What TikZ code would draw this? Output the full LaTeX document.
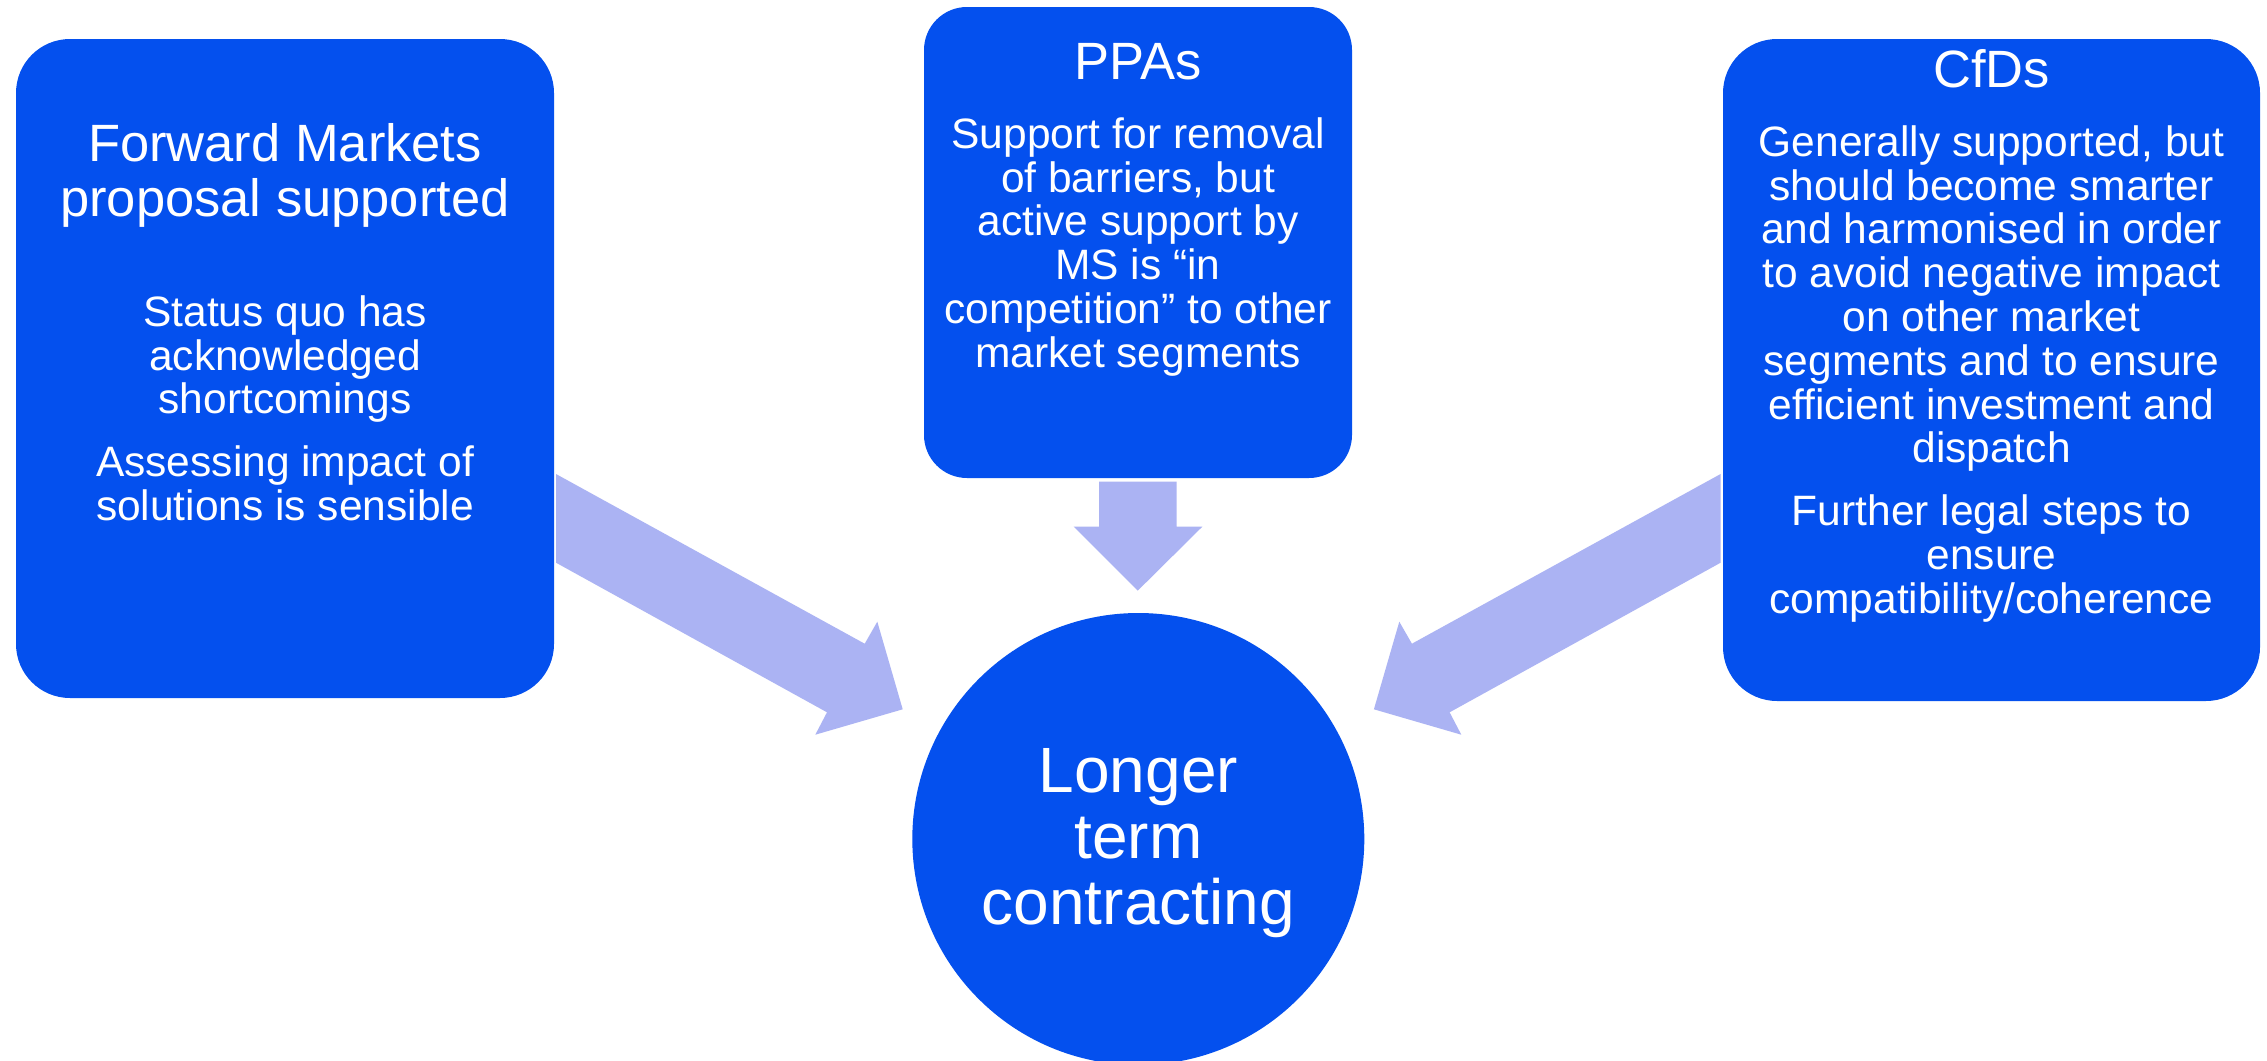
\documentclass[tikz,border=0pt]{standalone}
\usepackage{fontspec}
\setmainfont{Liberation Sans}
\definecolor{boxblue}{RGB}{4,80,238}
\definecolor{flow}{RGB}{171,179,243}
\newcommand\topstrut{\rule{0pt}{0.8em}}
\begin{document}
\begin{tikzpicture}[x=1pt,y=-1pt,
  panel/.style={fill=boxblue,draw=none,inner sep=0pt,rectangle},
  ttl/.style={text=white,align=center,inner sep=0pt,anchor=north,
    font=\fontsize{52.5}{55.5}\selectfont},
  bdy/.style={text=white,align=center,inner sep=0pt,anchor=north,
    font=\fontsize{42.5}{43.8}\selectfont},
  hub/.style={text=white,align=center,inner sep=0pt,anchor=north,
    font=\fontsize{64}{66}\selectfont},
  flowarrow/.style={fill=flow,draw=none}]
\clip (0,0) rectangle (2267,1060);
\fill[white] (0,0) rectangle (2267,1060);

% three source panels
\node[panel,minimum width=538pt,minimum height=659pt,rounded corners=54pt] (fm) at (285,368.5) {};
\node[panel,minimum width=428pt,minimum height=471pt,rounded corners=43pt] (ppa) at (1138,242.5) {};
\node[panel,minimum width=537pt,minimum height=662pt,rounded corners=54pt] (cfd) at (1991.5,370) {};

% central circle
\node[circle,fill=boxblue,draw=none,inner sep=0pt,minimum size=452pt] (ltc) at (1138.3,839) {};

% block arrows into the circle
\fill[flowarrow] (556,474) -- (864.7,643.7) -- (877.3,621.7) -- (902.7,709.3)
  -- (815.3,734.7) -- (827,712.3) -- (556,562.7) -- cycle;
\fill[flowarrow] (1720.6,474) -- (1411.9,643.7) -- (1399.3,621.7) -- (1373.9,709.3)
  -- (1461.3,734.7) -- (1449.6,712.3) -- (1720.6,562.7) -- cycle;
\fill[flowarrow] (1099,481.7) -- (1176.7,481.7) -- (1176.7,526.7) -- (1202.3,526.7)
  -- (1137.7,590.7) -- (1073.7,526.7) -- (1099,526.7) -- cycle;

% panel texts
\node[ttl] (fmt) at (285,119) {\topstrut Forward Markets\\proposal supported};
\node[bdy] (fmb) at (285,292) {\topstrut Status quo has\\acknowledged\\shortcomings\\[19pt]Assessing impact of\\solutions is sensible};

\node[ttl] (ppat) at (1138,37) {\topstrut PPAs};
\node[bdy] (ppab) at (1138,114) {\topstrut Support for removal\\of barriers, but\\active support by\\MS is “in\\competition” to other\\market segments};

\node[ttl] (cfdt) at (1991.5,45) {\topstrut CfDs};
\node[bdy] (cfdb) at (1991.5,122) {\topstrut Generally supported, but\\should become smarter\\and harmonised in order\\to avoid negative impact\\on other market\\segments and to ensure\\efficient investment and\\dispatch\\[19pt]Further legal steps to\\ensure\\compatibility/coherence};

\node[hub] (ltct) at (1138.3,741.5) {\topstrut Longer\\term\\contracting};
\end{tikzpicture}
\end{document}
